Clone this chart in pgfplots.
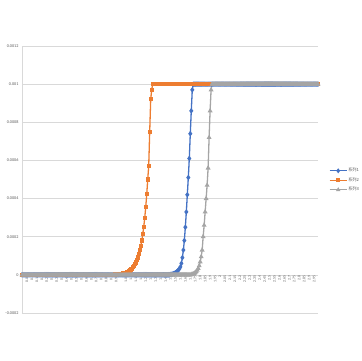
\documentclass[border=0pt]{standalone}
\usepackage{pgfplots}
\pgfplotsset{compat=1.18}
\usepackage{pgfplotstable}
\usepackage{fontspec}
\setmainfont{Carlito}
\newfontfamily\cjk{Noto Sans CJK SC}
\definecolor{s1}{HTML}{4472C4}
\definecolor{s2}{HTML}{ED7D31}
\definecolor{s3}{HTML}{A5A5A5}
\definecolor{gridc}{HTML}{D9D9D9}
\definecolor{txt}{HTML}{595959}

% current (A) of three devices against voltage (V)
\pgfplotstableread{
x A B C
0.00 0 0 0
0.01 0 0 0
0.02 0 0 0
0.03 0 0 0
0.04 0 0 0
0.05 0 0 0
0.06 0 0 0
0.07 0 0 0
0.08 0 0 0
0.09 0 0 0
0.10 0 0 0
0.11 0 0 0
0.12 0 0 0
0.13 0 0 0
0.14 0 0 0
0.15 0 0 0
0.16 0 0 0
0.17 0 0 0
0.18 0 0 0
0.19 0 0 0
0.20 0 0 0
0.21 0 0 0
0.22 0 0 0
0.23 0 0 0
0.24 0 0 0
0.25 0 0 0
0.26 0 0 0
0.27 0 0 0
0.28 0 0 0
0.29 0 0 0
0.30 0 0 0
0.31 0 0 0
0.32 0 0 0
0.33 0 0 0
0.34 0 0 0
0.35 0 0 0
0.36 0 0 0
0.37 0 0 0
0.38 0 0 0
0.39 0 0 0
0.40 0 0 0
0.41 0 0 0
0.42 0 0 0
0.43 0 0 0
0.44 0 0 0
0.45 0 0 0
0.46 0 0 0
0.47 0 0 0
0.48 0 0 0
0.49 0 0 0
0.50 0 0 0
0.51 0 0 0
0.52 0 0 0
0.53 0 0 0
0.54 0 0 0
0.55 0 0 0
0.56 0 0 0
0.57 0 0 0
0.58 0 0 0
0.59 0 0 0
0.60 0 0 0
0.61 0 0 0
0.62 0 0 0
0.63 0 0 0
0.64 0 0 0
0.65 0 0 0
0.66 0 0 0
0.67 0 0 0
0.68 0 0 0
0.69 0 0 0
0.70 0 0 0
0.71 0 0 0
0.72 0 0 0
0.73 0 0 0
0.74 0 0 0
0.75 0 0 0
0.76 0 0 0
0.77 0 0 0
0.78 0 0 0
0.79 0 0 0
0.80 0 0 0
0.81 0 0 0
0.82 0 0 0
0.83 0 0 0
0.84 0 0 0
0.85 0 0 0
0.86 0 0 0
0.87 0 0 0
0.88 0 0 0
0.89 0 0 0
0.90 0 0.0000009 0
0.91 0 0.0000011 0
0.92 0 0.0000013 0
0.93 0 0.0000015 0
0.94 0 0.0000018 0
0.95 0 0.0000021 0
0.96 0 0.0000025 0
0.97 0 0.0000030 0
0.98 0 0.0000036 0
0.99 0 0.0000042 0
1.00 0 0.000005 0
1.01 0 0.000006 0
1.02 0 0.000007 0
1.03 0 0.000008 0
1.04 0 0.000010 0
1.05 0 0.000012 0
1.06 0 0.000014 0
1.07 0 0.000017 0
1.08 0 0.000020 0
1.09 0 0.000023 0
1.10 0 0.000028 0
1.11 0 0.000033 0
1.12 0 0.000039 0
1.13 0 0.000046 0
1.14 0 0.000055 0
1.15 0 0.000065 0
1.16 0 0.000077 0
1.17 0 0.000091 0
1.18 0 0.000108 0
1.19 0 0.000128 0
1.20 0 0.000152 0
1.21 0 0.000180 0
1.22 0 0.000214 0
1.23 0 0.000253 0
1.24 0 0.000300 0
1.25 0 0.000356 0
1.26 0 0.000422 0
1.27 0 0.000500 0
1.28 0 0.000570 0
1.29 0 0.000750 0
1.30 0 0.000920 0
1.31 0 0.000970 0
1.32 0 0.001 0
1.33 0 0.001 0
1.34 0 0.001 0
1.35 0 0.001 0
1.36 0 0.001 0
1.37 0 0.001 0
1.38 0 0.001 0
1.39 0 0.001 0
1.40 0 0.001 0
1.41 0 0.001 0
1.42 0 0.001 0
1.43 0 0.001 0
1.44 0 0.001 0
1.45 0 0.001 0
1.46 0 0.001 0
1.47 0 0.001 0
1.48 0 0.001 0
1.49 0 0.001 0
1.50 0.000002 0.001 0
1.51 0.000003 0.001 0
1.52 0.000004 0.001 0
1.53 0.000006 0.001 0
1.54 0.000008 0.001 0
1.55 0.000011 0.001 0
1.56 0.000015 0.001 0
1.57 0.000020 0.001 0
1.58 0.000026 0.001 0
1.59 0.000032 0.001 0
1.60 0.000042 0.001 0
1.61 0.000060 0.001 0
1.62 0.000090 0.001 0
1.63 0.000130 0.001 0
1.64 0.000180 0.001 0
1.65 0.000250 0.001 0
1.66 0.000330 0.001 0
1.67 0.000420 0.001 0
1.68 0.000510 0.001 0
1.69 0.000610 0.001 0
1.70 0.000740 0.001 0
1.71 0.000860 0.001 0.000002
1.72 0.000970 0.001 0.000003
1.73 0.001 0.001 0.000005
1.74 0.001 0.001 0.000008
1.75 0.001 0.001 0.000012
1.76 0.001 0.001 0.000017
1.77 0.001 0.001 0.000024
1.78 0.001 0.001 0.000034
1.79 0.001 0.001 0.000048
1.80 0.001 0.001 0.000068
1.81 0.001 0.001 0.000095
1.82 0.001 0.001 0.000130
1.83 0.001 0.001 0.000200
1.84 0.001 0.001 0.000260
1.85 0.001 0.001 0.000330
1.86 0.001 0.001 0.000400
1.87 0.001 0.001 0.000470
1.88 0.001 0.001 0.000560
1.89 0.001 0.001 0.000720
1.90 0.001 0.001 0.000860
1.91 0.001 0.001 0.000970
1.92 0.001 0.001 0.001
1.93 0.001 0.001 0.001
1.94 0.001 0.001 0.001
1.95 0.001 0.001 0.001
1.96 0.001 0.001 0.001
1.97 0.001 0.001 0.001
1.98 0.001 0.001 0.001
1.99 0.001 0.001 0.001
2.00 0.001 0.001 0.001
2.01 0.001 0.001 0.001
2.02 0.001 0.001 0.001
2.03 0.001 0.001 0.001
2.04 0.001 0.001 0.001
2.05 0.001 0.001 0.001
2.06 0.001 0.001 0.001
2.07 0.001 0.001 0.001
2.08 0.001 0.001 0.001
2.09 0.001 0.001 0.001
2.10 0.001 0.001 0.001
2.11 0.001 0.001 0.001
2.12 0.001 0.001 0.001
2.13 0.001 0.001 0.001
2.14 0.001 0.001 0.001
2.15 0.001 0.001 0.001
2.16 0.001 0.001 0.001
2.17 0.001 0.001 0.001
2.18 0.001 0.001 0.001
2.19 0.001 0.001 0.001
2.20 0.001 0.001 0.001
2.21 0.001 0.001 0.001
2.22 0.001 0.001 0.001
2.23 0.001 0.001 0.001
2.24 0.001 0.001 0.001
2.25 0.001 0.001 0.001
2.26 0.001 0.001 0.001
2.27 0.001 0.001 0.001
2.28 0.001 0.001 0.001
2.29 0.001 0.001 0.001
2.30 0.001 0.001 0.001
2.31 0.001 0.001 0.001
2.32 0.001 0.001 0.001
2.33 0.001 0.001 0.001
2.34 0.001 0.001 0.001
2.35 0.001 0.001 0.001
2.36 0.001 0.001 0.001
2.37 0.001 0.001 0.001
2.38 0.001 0.001 0.001
2.39 0.001 0.001 0.001
2.40 0.001 0.001 0.001
2.41 0.001 0.001 0.001
2.42 0.001 0.001 0.001
2.43 0.001 0.001 0.001
2.44 0.001 0.001 0.001
2.45 0.001 0.001 0.001
2.46 0.001 0.001 0.001
2.47 0.001 0.001 0.001
2.48 0.001 0.001 0.001
2.49 0.001 0.001 0.001
2.50 0.001 0.001 0.001
2.51 0.001 0.001 0.001
2.52 0.001 0.001 0.001
2.53 0.001 0.001 0.001
2.54 0.001 0.001 0.001
2.55 0.001 0.001 0.001
2.56 0.001 0.001 0.001
2.57 0.001 0.001 0.001
2.58 0.001 0.001 0.001
2.59 0.001 0.001 0.001
2.60 0.001 0.001 0.001
2.61 0.001 0.001 0.001
2.62 0.001 0.001 0.001
2.63 0.001 0.001 0.001
2.64 0.001 0.001 0.001
2.65 0.001 0.001 0.001
2.66 0.001 0.001 0.001
2.67 0.001 0.001 0.001
2.68 0.001 0.001 0.001
2.69 0.001 0.001 0.001
2.70 0.001 0.001 0.001
2.71 0.001 0.001 0.001
2.72 0.001 0.001 0.001
2.73 0.001 0.001 0.001
2.74 0.001 0.001 0.001
2.75 0.001 0.001 0.001
2.76 0.001 0.001 0.001
2.77 0.001 0.001 0.001
2.78 0.001 0.001 0.001
2.79 0.001 0.001 0.001
2.80 0.001 0.001 0.001
2.81 0.001 0.001 0.001
2.82 0.001 0.001 0.001
2.83 0.001 0.001 0.001
2.84 0.001 0.001 0.001
2.85 0.001 0.001 0.001
2.86 0.001 0.001 0.001
2.87 0.001 0.001 0.001
2.88 0.001 0.001 0.001
2.89 0.001 0.001 0.001
2.90 0.001 0.001 0.001
2.91 0.001 0.001 0.001
2.92 0.001 0.001 0.001
2.93 0.001 0.001 0.001
2.94 0.001 0.001 0.001
2.95 0.001 0.001 0.001
2.96 0.001 0.001 0.001
2.97 0.001 0.001 0.001
2.98 0.001 0.001 0.001
2.99 0.001 0.001 0.001
}\data

\begin{document}
\begin{tikzpicture}[x=1pt,y=1pt]
\begin{axis}[
  scale only axis, width=296pt, height=267pt,
  xmin=0, xmax=2.99, ymin=-0.0002, ymax=0.0012,
  axis x line=bottom, axis y line=left,
  x axis line style={draw=none},
  y axis line style={-, draw=gridc, line width=0.5pt},
  ymajorgrids, grid style={draw=gridc, line width=0.5pt},
  ytick={-0.0002,0,0.0002,0.0004,0.0006,0.0008,0.001,0.0012},
  xtick={0,0.05,...,2.96},
  major tick length=0pt,
  scaled y ticks=false, scaled x ticks=false,
  /pgf/number format/assume math mode=true,
  yticklabel style={/pgf/number format/fixed, /pgf/number format/precision=4,
    font=\fontsize{4.2}{5}\selectfont, text=txt},
  % category labels hang from the zero line
  xticklabel style={/pgf/number format/fixed, /pgf/number format/precision=2,
    yshift=38.14pt, rotate=90, anchor=east,
    font=\fontsize{3.8}{4}\selectfont, text=txt, inner sep=1pt},
  legend style={at={(1.027,0.554)}, anchor=north west, draw=none, fill=none,
    font=\cjk\fontsize{4.2}{5}\selectfont, text=txt, row sep=2.5pt,
    nodes={inner sep=1pt}},
  legend cell align=left,
  legend image post style={line width=1pt},
  every axis plot/.append style={line width=1.3pt, mark options={solid}},
]
\addplot[color=s1, mark=diamond*, mark size=1.7pt] table[x=x, y=A] {\data};
\addplot[color=s2, mark=square*, mark size=1.4pt] table[x=x, y=B] {\data};
\addplot[color=s3, mark=triangle*, mark size=1.6pt] table[x=x, y=C] {\data};
\legend{系列1, 系列2, 系列3}
\end{axis}
% page frame around the plot area
\pgfresetboundingbox
\path[use as bounding box] (current axis.south west) ++(-22,-47) rectangle ++(362,360);
\end{tikzpicture}
\end{document}
